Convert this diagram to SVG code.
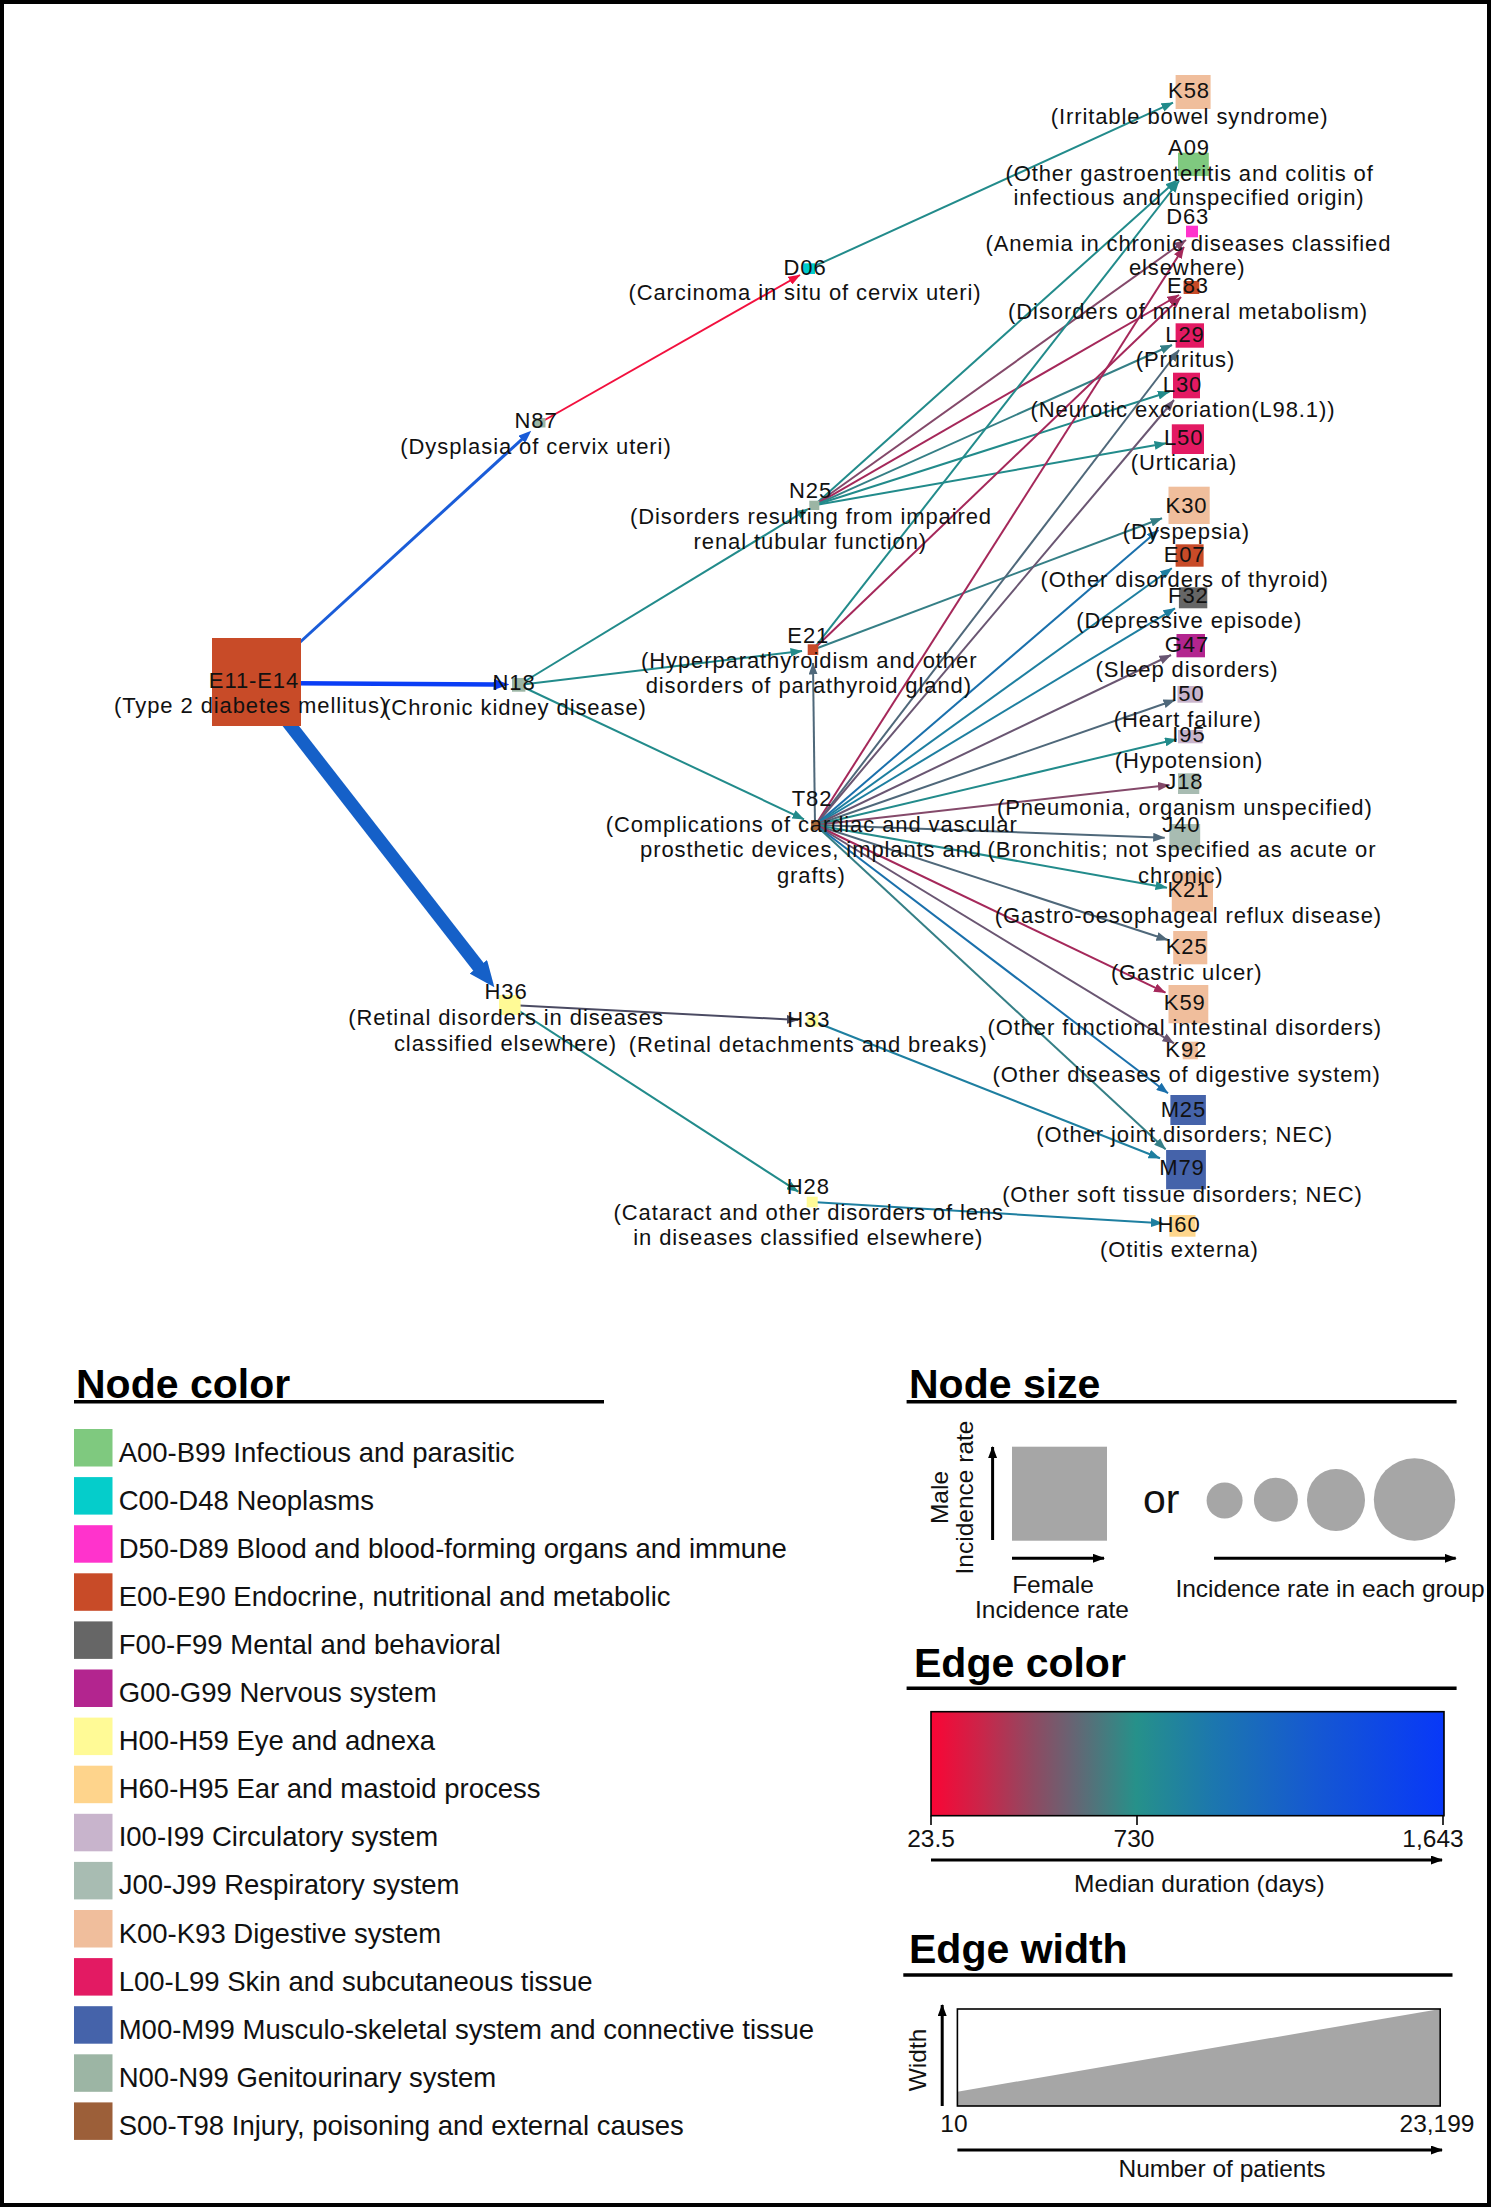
<svg xmlns="http://www.w3.org/2000/svg" width="1493" height="2208" viewBox="0 0 1493 2208">
<style>
.lbl{font-family:"Liberation Sans",Arial,sans-serif;font-size:22px;letter-spacing:0.9px;fill:#111;text-anchor:middle}
.leg{font-family:"Liberation Sans",Arial,sans-serif;font-size:27.5px;fill:#111}
.head{font-family:"Liberation Sans",Arial,sans-serif;font-size:41px;font-weight:bold;fill:#000}
.sm{font-family:"Liberation Sans",Arial,sans-serif;font-size:24.5px;fill:#111;text-anchor:middle}
.e{fill:none;stroke-width:2}
.teal{stroke:#228B8B}.tealg{stroke:#357F86}.tealb{stroke:#1E7FA0}.bluet{stroke:#1A70AC}
.slate{stroke:#4F687A}.pgrey{stroke:#6A5672}.mauve{stroke:#84496A}.crim{stroke:#A5285A}
.dark{stroke:#4A4A62}.red{stroke:#F2103E}
.ax{stroke:#000;stroke-width:3;fill:none}
.ul{stroke:#000;stroke-width:3.4}
.sw{stroke:none}
</style>
<defs>
<marker id="m-teal" viewBox="0 0 12 9" refX="11.5" refY="4.5" markerWidth="12" markerHeight="9" markerUnits="userSpaceOnUse" orient="auto"><path d="M0,0 L12,4.5 L0,9 z" fill="#228B8B"/></marker>
<marker id="m-tealg" viewBox="0 0 12 9" refX="11.5" refY="4.5" markerWidth="12" markerHeight="9" markerUnits="userSpaceOnUse" orient="auto"><path d="M0,0 L12,4.5 L0,9 z" fill="#357F86"/></marker>
<marker id="m-tealb" viewBox="0 0 12 9" refX="11.5" refY="4.5" markerWidth="12" markerHeight="9" markerUnits="userSpaceOnUse" orient="auto"><path d="M0,0 L12,4.5 L0,9 z" fill="#1E7FA0"/></marker>
<marker id="m-bluet" viewBox="0 0 12 9" refX="11.5" refY="4.5" markerWidth="12" markerHeight="9" markerUnits="userSpaceOnUse" orient="auto"><path d="M0,0 L12,4.5 L0,9 z" fill="#1A70AC"/></marker>
<marker id="m-slate" viewBox="0 0 12 9" refX="11.5" refY="4.5" markerWidth="12" markerHeight="9" markerUnits="userSpaceOnUse" orient="auto"><path d="M0,0 L12,4.5 L0,9 z" fill="#4F687A"/></marker>
<marker id="m-pgrey" viewBox="0 0 12 9" refX="11.5" refY="4.5" markerWidth="12" markerHeight="9" markerUnits="userSpaceOnUse" orient="auto"><path d="M0,0 L12,4.5 L0,9 z" fill="#6A5672"/></marker>
<marker id="m-mauve" viewBox="0 0 12 9" refX="11.5" refY="4.5" markerWidth="12" markerHeight="9" markerUnits="userSpaceOnUse" orient="auto"><path d="M0,0 L12,4.5 L0,9 z" fill="#84496A"/></marker>
<marker id="m-crim" viewBox="0 0 12 9" refX="11.5" refY="4.5" markerWidth="12" markerHeight="9" markerUnits="userSpaceOnUse" orient="auto"><path d="M0,0 L12,4.5 L0,9 z" fill="#A5285A"/></marker>
<marker id="m-dark" viewBox="0 0 12 9" refX="11.5" refY="4.5" markerWidth="12" markerHeight="9" markerUnits="userSpaceOnUse" orient="auto"><path d="M0,0 L12,4.5 L0,9 z" fill="#4A4A62"/></marker>
<marker id="m-red" viewBox="0 0 12 9" refX="11.5" refY="4.5" markerWidth="12" markerHeight="9" markerUnits="userSpaceOnUse" orient="auto"><path d="M0,0 L12,4.5 L0,9 z" fill="#F2103E"/></marker>
<marker id="m-blue1" viewBox="0 0 13 10" refX="1" refY="5" markerWidth="13" markerHeight="10" markerUnits="userSpaceOnUse" orient="auto"><path d="M0,0 L13,5 L0,10 z" fill="#1A5CD8"/></marker>
<marker id="m-blue2" viewBox="0 0 16 11" refX="1" refY="5.5" markerWidth="16" markerHeight="11" markerUnits="userSpaceOnUse" orient="auto"><path d="M0,0 L16,5.5 L0,11 z" fill="#0A3DF5"/></marker>
<marker id="m-blue3" viewBox="0 0 26 22" refX="1" refY="11" markerWidth="26" markerHeight="22" markerUnits="userSpaceOnUse" orient="auto"><path d="M0,0 L26,11 L0,22 z" fill="#1560C8"/></marker>
<marker id="m-black" viewBox="0 0 12 9" refX="11" refY="4.5" markerWidth="12" markerHeight="9" markerUnits="userSpaceOnUse" orient="auto"><path d="M0,0 L12,4.5 L0,9 z" fill="#000"/></marker>
<linearGradient id="grad" x1="0" y1="0" x2="1" y2="0">
<stop offset="0" stop-color="#FA0535"/><stop offset="0.1" stop-color="#C9264A"/><stop offset="0.2" stop-color="#8E4A62"/><stop offset="0.27" stop-color="#6A6272"/><stop offset="0.4" stop-color="#26918A"/><stop offset="0.55" stop-color="#1C77AE"/><stop offset="0.75" stop-color="#1558D2"/><stop offset="1" stop-color="#0838F8"/>
</linearGradient>
</defs>
<rect x="0" y="0" width="1493" height="2208" fill="#fff"/>
<rect x="2" y="2" width="1487" height="2203" fill="none" stroke="#000" stroke-width="4"/>

<g id="edges">
<line x1="256.5" y1="682" x2="522.4" y2="438.8" stroke="#1A5CD8" stroke-width="3" marker-end="url(#m-blue1)"/>
<line x1="256.5" y1="683" x2="494.5" y2="684.4" stroke="#0A3DF5" stroke-width="4.5" marker-end="url(#m-blue2)"/>
<line x1="256.5" y1="682" x2="479" y2="967.5" stroke="#1560C8" stroke-width="13" marker-end="url(#m-blue3)"/>
<line class="e red" x1="539.5" y1="423" x2="800" y2="275" stroke-width="2.5" marker-end="url(#m-red)"/>
<line class="e teal" x1="809" y1="268.7" x2="1173" y2="102.7" marker-end="url(#m-teal)"/>
<line class="e teal" x1="518.7" y1="685" x2="808" y2="509" marker-end="url(#m-teal)"/>
<line class="e teal" x1="518.7" y1="685" x2="802" y2="651" stroke-width="2.5" marker-end="url(#m-teal)"/>
<line class="e teal" x1="518.7" y1="685" x2="804" y2="819.3" marker-end="url(#m-teal)"/>
<line class="e teal" x1="814.3" y1="505.3" x2="1177" y2="180" marker-end="url(#m-teal)"/>
<line class="e mauve" x1="814.3" y1="505.3" x2="1186" y2="240" marker-end="url(#m-mauve)"/>
<line class="e crim" x1="814.3" y1="505.3" x2="1179" y2="295" marker-end="url(#m-crim)"/>
<line class="e tealg" x1="814.3" y1="505.3" x2="1172" y2="345" marker-end="url(#m-tealg)"/>
<line class="e teal" x1="814.3" y1="505.3" x2="1169.4" y2="391.7" marker-end="url(#m-teal)"/>
<line class="e teal" x1="814.3" y1="505.3" x2="1166" y2="443.3" marker-end="url(#m-teal)"/>
<line class="e teal" x1="813" y1="649.7" x2="1179" y2="181" marker-end="url(#m-teal)"/>
<line class="e crim" x1="813" y1="649.7" x2="1181" y2="297" marker-end="url(#m-crim)"/>
<line class="e tealg" x1="813" y1="649.7" x2="1162" y2="518.3" marker-end="url(#m-tealg)"/>
<line class="e slate" x1="815" y1="825" x2="813" y2="663" marker-end="url(#m-slate)"/>
<line class="e crim" x1="815.5" y1="825" x2="1184" y2="247" marker-end="url(#m-crim)"/>
<line class="e slate" x1="815.5" y1="825" x2="1179" y2="350" marker-end="url(#m-slate)"/>
<line class="e pgrey" x1="815.5" y1="825" x2="1174" y2="400" marker-end="url(#m-pgrey)"/>
<line class="e bluet" x1="815.5" y1="825" x2="1158.5" y2="530" marker-end="url(#m-bluet)"/>
<line class="e tealb" x1="815.5" y1="825" x2="1171.8" y2="568.3" marker-end="url(#m-tealb)"/>
<line class="e tealb" x1="815.5" y1="825" x2="1175" y2="608.3" marker-end="url(#m-tealb)"/>
<line class="e pgrey" x1="815.5" y1="825" x2="1171" y2="655" marker-end="url(#m-pgrey)"/>
<line class="e slate" x1="815.5" y1="825" x2="1175" y2="700" marker-end="url(#m-slate)"/>
<line class="e teal" x1="815.5" y1="825" x2="1176.5" y2="739.3" marker-end="url(#m-teal)"/>
<line class="e mauve" x1="815.5" y1="825" x2="1169.4" y2="785" marker-end="url(#m-mauve)"/>
<line class="e slate" x1="815.5" y1="825" x2="1164.7" y2="837.7" marker-end="url(#m-slate)"/>
<line class="e teal" x1="815.5" y1="825" x2="1167" y2="887.7" marker-end="url(#m-teal)"/>
<line class="e slate" x1="815.5" y1="825" x2="1168" y2="940" marker-end="url(#m-slate)"/>
<line class="e crim" x1="815.5" y1="825" x2="1165.5" y2="992.7" marker-end="url(#m-crim)"/>
<line class="e pgrey" x1="815.5" y1="825" x2="1174" y2="1043.3" marker-end="url(#m-pgrey)"/>
<line class="e bluet" x1="815.5" y1="825" x2="1168" y2="1093.3" marker-end="url(#m-bluet)"/>
<line class="e tealg" x1="815.5" y1="825" x2="1165.6" y2="1149.3" marker-end="url(#m-tealg)"/>
<line class="e dark" x1="510" y1="1005" x2="798.3" y2="1020" stroke-width="2.5" marker-end="url(#m-dark)"/>
<line class="e teal" x1="510" y1="1005" x2="798.3" y2="1191.7" marker-end="url(#m-teal)"/>
<line class="e tealb" x1="812.5" y1="1021" x2="1160" y2="1158.3" stroke-width="2.5" marker-end="url(#m-tealb)"/>
<line class="e tealb" x1="812.2" y1="1202" x2="1162.3" y2="1223.3" stroke-width="2.5" marker-end="url(#m-tealb)"/>
</g>

<g id="node-E11-E14"><rect x="212" y="638" width="89" height="88" fill="#C84B28"/><text class="lbl" x="254" y="688">E11-E14</text><text class="lbl" x="251" y="713">(Type 2 diabetes mellitus)</text></g>
<g id="node-N18"><rect x="512" y="678" width="13.4" height="13.7" fill="#9CB5A4"/><text class="lbl" x="514" y="690">N18</text><text class="lbl" x="515" y="715">(Chronic kidney disease)</text></g>
<g id="node-N87"><rect x="533.5" y="418" width="12" height="9.5" fill="#9CB5A4"/><text class="lbl" x="536" y="428">N87</text><text class="lbl" x="536" y="454">(Dysplasia of cervix uteri)</text></g>
<g id="node-D06"><rect x="803" y="263.3" width="12" height="10.7" fill="#00CCCC"/><text class="lbl" x="805" y="275">D06</text><text class="lbl" x="805" y="300">(Carcinoma in situ of cervix uteri)</text></g>
<g id="node-N25"><rect x="809.3" y="500.7" width="10" height="9.3" fill="#9CB5A4"/><text class="lbl" x="810.5" y="498.3">N25</text><text class="lbl" x="811" y="524">(Disorders resulting from impaired</text><text class="lbl" x="810.3" y="549.3">renal tubular function)</text></g>
<g id="node-E21"><rect x="807.7" y="644.3" width="10.6" height="10.7" fill="#C84B28"/><text class="lbl" x="808.3" y="643.3">E21</text><text class="lbl" x="809.2" y="668.3">(Hyperparathyroidism and other</text><text class="lbl" x="808.8" y="693.3">disorders of parathyroid gland)</text></g>
<g id="node-T82"><rect x="811" y="820" width="9" height="10" fill="#A86A3A"/><text class="lbl" x="812" y="806">T82</text><text class="lbl" x="811.7" y="831.7">(Complications of cardiac and vascular</text><text class="lbl" x="811" y="857.3">prosthetic devices, implants and</text><text class="lbl" x="811.3" y="883.3">grafts)</text></g>
<g id="node-H36"><rect x="499" y="995" width="21.6" height="20" fill="#FFFA96"/><text class="lbl" x="506" y="999.3">H36</text><text class="lbl" x="506" y="1025">(Retinal disorders in diseases</text><text class="lbl" x="505.5" y="1050.7">classified elsewhere)</text></g>
<g id="node-H33"><rect x="806.7" y="1015" width="11.6" height="11.7" fill="#FFFA96"/><text class="lbl" x="808.8" y="1026.7">H33</text><text class="lbl" x="808.3" y="1052.3">(Retinal detachments and breaks)</text></g>
<g id="node-H28"><rect x="806.7" y="1196.7" width="11" height="10.6" fill="#FFFA96"/><text class="lbl" x="808.3" y="1194">H28</text><text class="lbl" x="808.8" y="1220">(Cataract and other disorders of lens</text><text class="lbl" x="808.3" y="1245">in diseases classified elsewhere)</text></g>

<g id="node-H60"><rect x="1169.4" y="1215" width="26.1" height="21.7" fill="#FED68C"/><text class="lbl" x="1179" y="1231.7">H60</text><text class="lbl" x="1179.4" y="1257.3">(Otitis externa)</text></g>
<g id="node-M79"><rect x="1166.1" y="1150" width="39.8" height="39.3" fill="#4563AA"/><text class="lbl" x="1182" y="1175">M79</text><text class="lbl" x="1182.5" y="1201.7">(Other soft tissue disorders; NEC)</text></g>
<g id="node-M25"><rect x="1170.4" y="1095" width="35.5" height="30" fill="#4563AA"/><text class="lbl" x="1183.4" y="1116.7">M25</text><text class="lbl" x="1184.6" y="1141.7">(Other joint disorders; NEC)</text></g>
<g id="node-K92"><rect x="1182.7" y="1041.7" width="15.2" height="17.6" fill="#F0BE9C"/><text class="lbl" x="1186.3" y="1056.7">K92</text><text class="lbl" x="1186.7" y="1081.7">(Other diseases of digestive system)</text></g>
<g id="node-K59"><rect x="1168.5" y="985" width="39.8" height="38.3" fill="#F0BE9C"/><text class="lbl" x="1184.8" y="1010">K59</text><text class="lbl" x="1184.8" y="1035">(Other functional intestinal disorders)</text></g>
<g id="node-K25"><rect x="1173.2" y="931" width="34.1" height="33.3" fill="#F0BE9C"/><text class="lbl" x="1186.7" y="954">K25</text><text class="lbl" x="1186.7" y="980">(Gastric ulcer)</text></g>
<g id="node-K21"><rect x="1171.8" y="872.7" width="41.2" height="39" fill="#F0BE9C"/><text class="lbl" x="1188.4" y="897.3">K21</text><text class="lbl" x="1188.4" y="923.3">(Gastro-oesophageal reflux disease)</text></g>
<g id="node-J40"><rect x="1169.4" y="824" width="30.8" height="26" fill="#A8BCB2"/><text class="lbl" x="1181.3" y="831.7">J40</text><text class="lbl" x="1182" y="857.3">(Bronchitis; not specified as acute or</text><text class="lbl" x="1180.8" y="882.7">chronic)</text></g>
<g id="node-J18"><rect x="1178" y="773.3" width="21.3" height="20.7" fill="#A8BCB2"/><text class="lbl" x="1184.4" y="789.3">J18</text><text class="lbl" x="1184.8" y="815">(Pneumonia, organism unspecified)</text></g>
<g id="node-I95"><rect x="1178" y="730" width="24.6" height="13.3" fill="#C8B4CC"/><text class="lbl" x="1189" y="741.7">I95</text><text class="lbl" x="1189" y="768.3">(Hypotension)</text></g>
<g id="node-I50"><rect x="1177.5" y="686" width="25.1" height="16.7" fill="#C8B4CC"/><text class="lbl" x="1188" y="701">I50</text><text class="lbl" x="1187.7" y="726.7">(Heart failure)</text></g>
<g id="node-G47"><rect x="1176.5" y="634" width="28.5" height="23.3" fill="#B3258F"/><text class="lbl" x="1187" y="651.7">G47</text><text class="lbl" x="1187" y="676.7">(Sleep disorders)</text></g>
<g id="node-F32"><rect x="1178.9" y="587.3" width="28.4" height="21" fill="#666666"/><text class="lbl" x="1188.4" y="603.3">F32</text><text class="lbl" x="1189.3" y="628.3">(Depressive episode)</text></g>
<g id="node-E07"><rect x="1175.6" y="544.3" width="28" height="22.4" fill="#C84B28"/><text class="lbl" x="1184.6" y="562.3">E07</text><text class="lbl" x="1184.6" y="587.3">(Other disorders of thyroid)</text></g>
<g id="node-K30"><rect x="1168.5" y="486.7" width="41.2" height="37.3" fill="#F0BE9C"/><text class="lbl" x="1186.5" y="513.3">K30</text><text class="lbl" x="1186.3" y="539.3">(Dyspepsia)</text></g>
<g id="node-L50"><rect x="1171.8" y="424.3" width="32.2" height="29.7" fill="#E31A63"/><text class="lbl" x="1183.6" y="445">L50</text><text class="lbl" x="1183.9" y="470">(Urticaria)</text></g>
<g id="node-L30"><rect x="1173" y="372.7" width="27" height="25.6" fill="#E31A63"/><text class="lbl" x="1182.5" y="391.7">L30</text><text class="lbl" x="1183" y="416.7">(Neurotic excoriation(L98.1))</text></g>
<g id="node-L29"><rect x="1175.6" y="323.3" width="28.4" height="24.4" fill="#E31A63"/><text class="lbl" x="1185" y="342.3">L29</text><text class="lbl" x="1185.5" y="366.7">(Pruritus)</text></g>
<g id="node-E83"><rect x="1183.6" y="281" width="15.7" height="13" fill="#C84B28"/><text class="lbl" x="1188" y="293.3">E83</text><text class="lbl" x="1188" y="319.3">(Disorders of mineral metabolism)</text></g>
<g id="node-D63"><rect x="1186" y="225.7" width="12" height="11.6" fill="#FF33CC"/><text class="lbl" x="1187.7" y="224">D63</text><text class="lbl" x="1188.4" y="250.7">(Anemia in chronic diseases classified</text><text class="lbl" x="1187.2" y="275">elsewhere)</text></g>
<g id="node-A09"><rect x="1178" y="152.7" width="30.8" height="23.3" fill="#7FC97F"/><text class="lbl" x="1189" y="155">A09</text><text class="lbl" x="1189.6" y="181">(Other gastroenteritis and colitis of</text><text class="lbl" x="1189" y="205">infectious and unspecified origin)</text></g>
<g id="node-K58"><rect x="1175.6" y="75" width="35" height="34" fill="#F0BE9C"/><text class="lbl" x="1189" y="98">K58</text><text class="lbl" x="1189.6" y="124">(Irritable bowel syndrome)</text></g>

<g id="legend-node-color">
<text class="head" x="76" y="1398">Node color</text>
<line class="ul" x1="74" y1="1401.7" x2="604" y2="1401.7"/>
<rect class="sw" x="74" y="1429" width="38.5" height="37.5" fill="#7FC97F"/><text class="leg" x="118.7" y="1461.5">A00-B99 Infectious and parasitic</text>
<rect class="sw" x="74" y="1477.1" width="38.5" height="37.5" fill="#05CDCB"/><text class="leg" x="118.7" y="1509.6">C00-D48 Neoplasms</text>
<rect class="sw" x="74" y="1525.2" width="38.5" height="37.5" fill="#FF33CC"/><text class="leg" x="118.7" y="1557.7">D50-D89 Blood and blood-forming organs and immune</text>
<rect class="sw" x="74" y="1573.3" width="38.5" height="37.5" fill="#C84B28"/><text class="leg" x="118.7" y="1605.8">E00-E90 Endocrine, nutritional and metabolic</text>
<rect class="sw" x="74" y="1621.4" width="38.5" height="37.5" fill="#666666"/><text class="leg" x="118.7" y="1653.9">F00-F99 Mental and behavioral</text>
<rect class="sw" x="74" y="1669.5" width="38.5" height="37.5" fill="#B3258F"/><text class="leg" x="118.7" y="1702">G00-G99 Nervous system</text>
<rect class="sw" x="74" y="1717.6" width="38.5" height="37.5" fill="#FFFA96"/><text class="leg" x="118.7" y="1750.1">H00-H59 Eye and adnexa</text>
<rect class="sw" x="74" y="1765.7" width="38.5" height="37.5" fill="#FED48C"/><text class="leg" x="118.7" y="1798.2">H60-H95 Ear and mastoid process</text>
<rect class="sw" x="74" y="1813.8" width="38.5" height="37.5" fill="#C8B4CC"/><text class="leg" x="118.7" y="1846.3">I00-I99 Circulatory system</text>
<rect class="sw" x="74" y="1861.9" width="38.5" height="37.5" fill="#A8BCB2"/><text class="leg" x="118.7" y="1894.4">J00-J99 Respiratory system</text>
<rect class="sw" x="74" y="1910" width="38.5" height="37.5" fill="#F0BE9C"/><text class="leg" x="118.7" y="1942.5">K00-K93 Digestive system</text>
<rect class="sw" x="74" y="1958.1" width="38.5" height="37.5" fill="#E31A63"/><text class="leg" x="118.7" y="1990.6">L00-L99 Skin and subcutaneous tissue</text>
<rect class="sw" x="74" y="2006.2" width="38.5" height="37.5" fill="#4563AA"/><text class="leg" x="118.7" y="2038.7">M00-M99 Musculo-skeletal system and connective tissue</text>
<rect class="sw" x="74" y="2054.3" width="38.5" height="37.5" fill="#9CB5A4"/><text class="leg" x="118.7" y="2086.8">N00-N99 Genitourinary system</text>
<rect class="sw" x="74" y="2102.4" width="38.5" height="37.5" fill="#9C5F39"/><text class="leg" x="118.7" y="2134.9">S00-T98 Injury, poisoning and external causes</text>
</g>

<g id="legend-node-size">
<text class="head" x="909" y="1398">Node size</text>
<line class="ul" x1="906.6" y1="1401.7" x2="1456.6" y2="1401.7"/>
<text class="sm" transform="translate(948,1497.5) rotate(-90)" font-size="24">Male</text>
<text class="sm" transform="translate(973,1497.5) rotate(-90)" font-size="24">Incidence rate</text>
<line class="ax" x1="992.6" y1="1540" x2="992.6" y2="1447" marker-end="url(#m-black)"/>
<rect x="1012" y="1446.7" width="95" height="94" fill="#A6A6A6"/>
<line class="ax" x1="1012" y1="1558.3" x2="1104" y2="1558.3" marker-end="url(#m-black)"/>
<text class="sm" x="1053" y="1593.3">Female</text>
<text class="sm" x="1052" y="1618.3">Incidence rate</text>
<text x="1143" y="1513" font-family="Liberation Sans, Arial, sans-serif" font-size="41" fill="#111">or</text>
<circle cx="1224.6" cy="1500.5" r="18" fill="#A6A6A6"/>
<circle cx="1275.9" cy="1499.7" r="22" fill="#A6A6A6"/>
<ellipse cx="1336" cy="1500" rx="29" ry="31" fill="#A6A6A6"/>
<ellipse cx="1414.5" cy="1499.5" rx="40.7" ry="41.2" fill="#A6A6A6"/>
<line class="ax" x1="1214" y1="1558.3" x2="1455.7" y2="1558.3" marker-end="url(#m-black)"/>
<text class="sm" x="1330" y="1596.7" font-size="24">Incidence rate in each group</text>
</g>

<g id="legend-edge-color">
<text class="head" x="914" y="1676.7">Edge color</text>
<line class="ul" x1="906.6" y1="1688.3" x2="1456.6" y2="1688.3"/>
<rect x="931" y="1711.7" width="513" height="104" fill="url(#grad)" stroke="#000" stroke-width="1.6"/>
<line x1="931" y1="1815.7" x2="931" y2="1825" stroke="#000" stroke-width="1.6"/>
<line x1="1137" y1="1815.7" x2="1137" y2="1825" stroke="#000" stroke-width="1.6"/>
<line x1="1443" y1="1815.7" x2="1443" y2="1825" stroke="#000" stroke-width="1.6"/>
<text class="sm" x="931" y="1847.3">23.5</text>
<text class="sm" x="1134" y="1847.3">730</text>
<text class="sm" x="1433" y="1847.3">1,643</text>
<line class="ax" x1="931" y1="1860" x2="1442" y2="1860" marker-end="url(#m-black)"/>
<text class="sm" x="1199.4" y="1891.7" font-size="27.5">Median duration (days)</text>
</g>

<g id="legend-edge-width">
<text class="head" x="909" y="1963.3">Edge width</text>
<line class="ul" x1="903.3" y1="1975" x2="1452.5" y2="1975"/>
<line class="ax" x1="942.2" y1="2106" x2="942.2" y2="2005" marker-end="url(#m-black)"/>
<polygon points="957.4,2106 957.4,2091.7 1440.2,2009 1440.2,2106" fill="#A6A6A6"/>
<rect x="957.4" y="2009" width="482.8" height="97" fill="none" stroke="#000" stroke-width="1.6"/>
<text class="sm" transform="translate(926,2060) rotate(-90)" font-size="30">Width</text>
<text class="sm" x="954" y="2132.3" font-size="25">10</text>
<text class="sm" x="1437" y="2132.3" font-size="25">23,199</text>
<line class="ax" x1="957.4" y1="2150" x2="1442" y2="2150" marker-end="url(#m-black)"/>
<text class="sm" x="1222" y="2176.7" font-size="27.5">Number of patients</text>
</g>
</svg>
